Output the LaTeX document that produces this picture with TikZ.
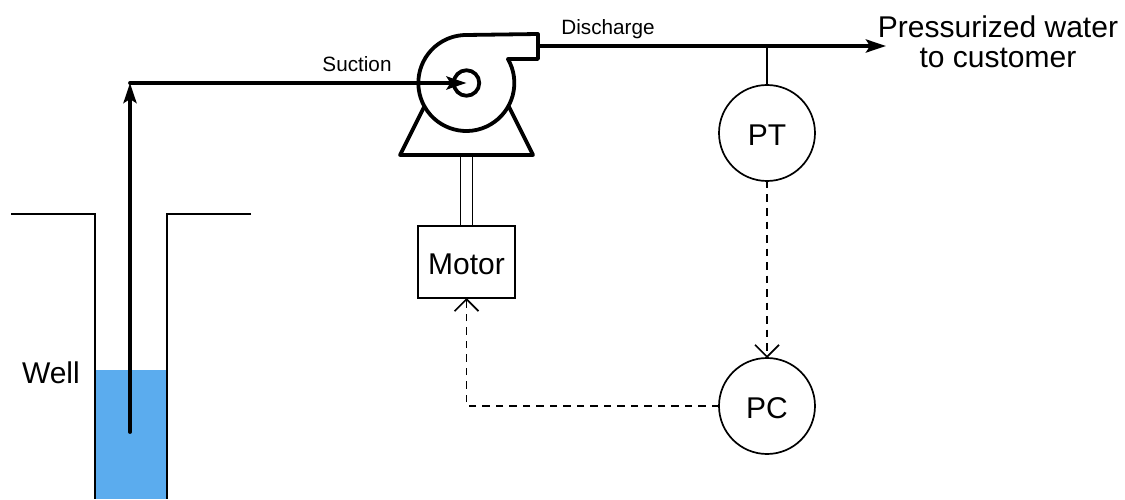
\documentclass[tikz,border=0pt]{standalone}
\usepackage{fontspec}
\setmainfont{Liberation Sans}
\usetikzlibrary{arrows.meta}
\definecolor{waterblue}{HTML}{5BACEE}
\tikzset{
  x=1pt,y=1pt,
  thinline/.style={line width=1.7pt,black},
  heavy/.style={line width=3.8pt,black,line cap=round,line join=round},
  pipe/.style={heavy,-{Stealth[length=20pt,width=13pt,inset=4pt]}},
  signal/.style={thinline,dash pattern=on 7.5pt off 6pt,-{Straight Barb[length=12pt,width=24pt]}},
  instr/.style={circle,draw,thinline,minimum size=96pt,inner sep=0pt,outer sep=0pt,font=\fontsize{30}{32}\selectfont},
  boxnode/.style={rectangle,draw,thinline,minimum width=97pt,minimum height=72pt,inner sep=0pt,outer sep=0pt,font=\fontsize{30}{32}\selectfont},
  small/.style={inner sep=0pt,font=\fontsize{20.7}{23}\selectfont},
  big/.style={inner sep=0pt,font=\fontsize{30}{32}\selectfont},
  lowtext/.style={text depth=0pt,text height=25.5pt},
}
\begin{document}
\begin{tikzpicture}
\useasboundingbox (0,0) rectangle (1125,499);
% water and well
\fill[waterblue] (95,0) rectangle (167,129);
\coordinate (wellL0) at (11,285);
\coordinate (wellL1) at (95,285);
\coordinate (wellL2) at (95,0);
\coordinate (wellR0) at (251,285);
\coordinate (wellR1) at (167,285);
\coordinate (wellR2) at (167,0);
\draw[thinline] (wellL0) -- (wellL1) -- (wellL2);
\draw[thinline] (wellR0) -- (wellR1) -- (wellR2);
\node[big,anchor=east] (well) at (80,126) {Well};
% pump
\coordinate (pump) at (466.5,416);
\coordinate (outTop) at (538,465);
\coordinate (outBot) at (538,440);
\coordinate (dis) at (538,453);
\draw[heavy] (outBot) -- (507.9,440) arc[start angle=30,end angle=-270,radius=48] -- (outTop) -- cycle;
\node[circle,draw,heavy,minimum size=25.5pt,inner sep=0pt,outer sep=0pt] (eye) at (pump) {};
\draw[heavy] (424,392) -- (400,344) -- (533,344) -- (509,392);
% motor and shaft
\node[boxnode,lowtext] (motor) at (466.5,237) {Motor};
\draw[thinline] (460.5,344) -- (460.5,273);
\draw[thinline] (472.5,344) -- (472.5,273);
% suction
\coordinate (foot) at (130,67);
\coordinate (corner) at (130,416);
\draw[pipe] (foot) -- (corner);
\draw[pipe] (corner) -- (pump);
\node[small] (suction) at (357,435) {Suction};
% discharge
\coordinate (tap) at (767,453);
\coordinate (cust) at (886,453);
\draw[pipe] (dis) -- (cust);
\node[small] (discharge) at (608,470) {Discharge};
\node[big,align=center] (cust label) at (998,457) {Pressurized water\\[-2pt]to customer};
% instruments
\node[instr,lowtext] (PT) at (767,366) {PT};
\node[instr,lowtext] (PC) at (767,93) {PC};
\draw[thinline] (tap) -- (PT.north);
\draw[signal] (PT.south) -- (PC.north);
\draw[signal] (PC.west) -| (motor.south);
\end{tikzpicture}
\end{document}
